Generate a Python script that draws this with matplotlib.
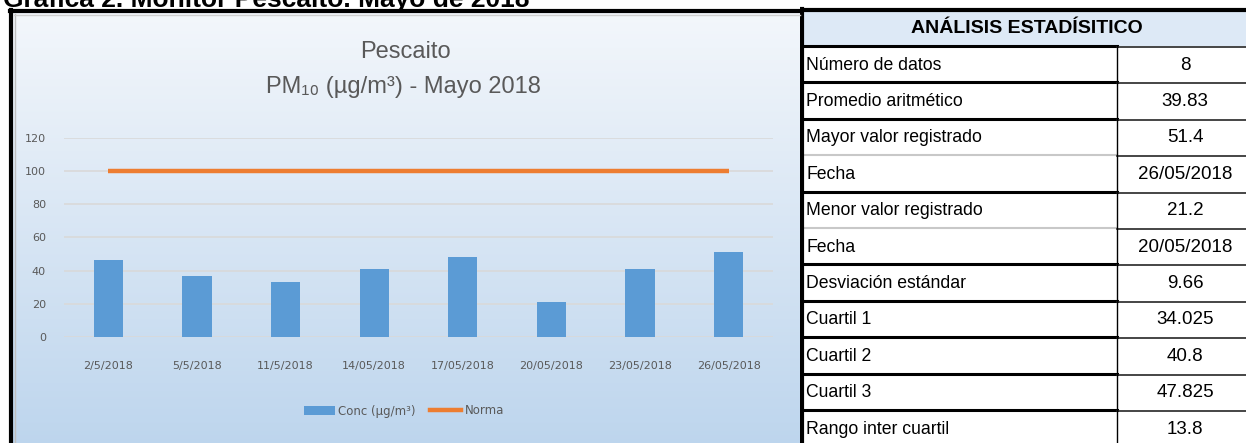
import matplotlib
matplotlib.use("Agg")
import matplotlib.pyplot as plt
import numpy as np
from matplotlib import font_manager as fm
from matplotlib.patches import Rectangle, Patch
from matplotlib.lines import Line2D

# ---------------- data ----------------
dates = ["2/5/2018", "5/5/2018", "11/5/2018", "14/05/2018",
         "17/05/2018", "20/05/2018", "23/05/2018", "26/05/2018"]
conc = [46.6, 36.5, 33.2, 40.8, 48.2, 21.2, 40.8, 51.4]
norma = [100, 100, 100, 100, 100, 100, 100, 100]
y_ticks = [0, 20, 40, 60, 80, 100, 120]

stat_labels = ["Número de datos", "Promedio aritmético", "Mayor valor registrado",
               "Fecha", "Menor valor registrado", "Fecha", "Desviación estándar",
               "Cuartil 1", "Cuartil 2", "Cuartil 3", "Rango inter cuartil"]
stat_values = ["8", "39.83", "51.4", "26/05/2018", "21.2", "20/05/2018",
               "9.66", "34.025", "40.8", "47.825", "13.8"]

# ---------------- fonts ----------------
names = {f.name for f in fm.fontManager.ttflist}
narrow = "Liberation Sans Narrow" if "Liberation Sans Narrow" in names else "Liberation Sans"
NARROW = [narrow, "DejaVu Sans"]

W, H = 1246, 443
fig = plt.figure(figsize=(W / 100, H / 100), dpi=100)

def rect(l, t, w, h):
    return [l / W, 1 - (t + h) / H, w / W, h / H]

GRAY = "#595959"

# ---------------- chart panel background ----------------
bg = fig.add_axes(rect(10, 10, 790, 440))
top = np.array([0.955, 0.968, 0.985])
bot = np.array([0.74, 0.835, 0.93])
t = np.linspace(0, 1, 256)[:, None]
grad = top[None, None, :] * (1 - t[:, :, None]) + bot[None, None, :] * t[:, :, None]
grad = np.repeat(grad, 2, axis=1)
bg.imshow(grad, aspect="auto", extent=[0, 1, 0, 1], origin="upper")
bg.set_xlim(0, 1); bg.set_ylim(0, 1)
bg.set_xticks([]); bg.set_yticks([])
for s in bg.spines.values():
    s.set_visible(False)
# black frame left / top
fig.add_artist(Line2D([11 / W, 11 / W], [0, 1 - 10 / H], color="black", lw=3, transform=fig.transFigure))
fig.add_artist(Line2D([10 / W, 800 / W], [1 - 11 / H, 1 - 11 / H], color="black", lw=3, transform=fig.transFigure))
fig.add_artist(Line2D([14.5 / W, 14.5 / W], [0, 1 - 14 / H], color="#bfbfbf", lw=1, transform=fig.transFigure))
fig.add_artist(Line2D([14 / W, 800 / W], [1 - 14.5 / H, 1 - 14.5 / H], color="#d0d0d0", lw=1, transform=fig.transFigure))

# chart title
fig.text(405 / W, 1 - 52 / H, "Pescaito", family=NARROW, fontsize=17, color=GRAY,
         ha="center", va="center")
fig.text(403 / W, 1 - 87 / H, "PM₁₀ (µg/m³) - Mayo 2018", family=NARROW, fontsize=17,
         color=GRAY, ha="center", va="center")

# ---------------- plot ----------------
ax = fig.add_axes(rect(64, 137.6, 709, 337 - 137.6))
ax.patch.set_alpha(0)
x = np.arange(len(dates))
ax.bar(x, conc, width=0.33, color="#5B9BD5", zorder=3, label="Conc (µg/m³)")
ax.plot(x, norma, color="#ED7D31", lw=3.2, zorder=4, label="Norma", solid_capstyle="butt")
ax.set_xlim(-0.5, len(dates) - 0.5)
ax.set_ylim(0, 120)
ax.set_yticks(y_ticks)
ax.set_yticklabels([str(v) for v in y_ticks])
ax.set_xticks(x)
ax.set_xticklabels(dates)
ax.grid(axis="y", color="#d9d9d9", lw=1.2, zorder=1)
ax.tick_params(axis="both", length=0, colors=GRAY, labelsize=8)
ax.tick_params(axis="x", pad=17)
ax.tick_params(axis="y", pad=13)
for s in ax.spines.values():
    s.set_visible(False)

handles = [Patch(facecolor="#5B9BD5", edgecolor="none"),
           Line2D([0], [0], color="#ED7D31", lw=3.2)]
leg = fig.legend(handles, ["Conc (µg/m³)", "Norma"], loc="center",
                 bbox_to_anchor=(404 / W, 1 - 411 / H), ncol=2, frameon=False,
                 fontsize=8.5, handlelength=2.6, handleheight=0.8, columnspacing=1.2,
                 handletextpad=0.3)
for txt in leg.get_texts():
    txt.set_color(GRAY)

# ---------------- top caption (clipped like the reference) ----------------
fig.text(3 / W, 1 - 7 / H, "Gráfica 2. Monitor Pescaito. Mayo de 2018",
         family=["Liberation Sans", "DejaVu Sans"], fontweight="bold", fontsize=19,
         color="black", ha="left", va="baseline")

# ---------------- statistics table ----------------
tx = fig.add_axes(rect(800, 0, 446, 443))
tx.set_xlim(800, 1246)
tx.set_ylim(443, 0)
tx.axis("off")
tx.add_patch(Rectangle((802, 10), 446, 36, facecolor="#dde9f6", edgecolor="none", zorder=0))
tx.add_patch(Rectangle((802, 46), 446, 400, facecolor="white", edgecolor="none", zorder=0))
tx.text(1027, 28, "ANÁLISIS ESTADÍSITICO", family=NARROW, fontweight="bold", fontsize=14,
        ha="center", va="center", color="black")

row_top = 46.0
row_h = 36.4
col_split = 1117
for i, (lab, val) in enumerate(zip(stat_labels, stat_values)):
    yc = row_top + row_h * (i + 0.5)
    tx.text(806, yc + 1, lab, family=NARROW, fontsize=12.7, ha="left", va="center", color="black")
    tx.text(1185, yc + 1, val, family=NARROW, fontsize=13.5, ha="center", va="center", color="black")

light_after = {3, 5}  # boundaries drawn light gray in left column
for i in range(len(stat_labels) + 1):
    yb = row_top + row_h * i
    if i in light_after:
        tx.plot([803, col_split], [yb, yb], color="#c8c8c8", lw=1.5, zorder=2)
    else:
        tx.plot([803, col_split], [yb, yb], color="black", lw=2.2, zorder=2)
    tx.plot([col_split, 1246], [yb + 1, yb + 1], color="#262626", lw=1.2, zorder=2)

tx.plot([col_split, col_split], [46, 443], color="black", lw=1.0, zorder=3)
tx.plot([802, 802], [9, 443], color="black", lw=3.0, zorder=3)
tx.plot([800, 1246], [10, 10], color="black", lw=3.0, zorder=3)

fig.savefig("out.png", dpi=100)
